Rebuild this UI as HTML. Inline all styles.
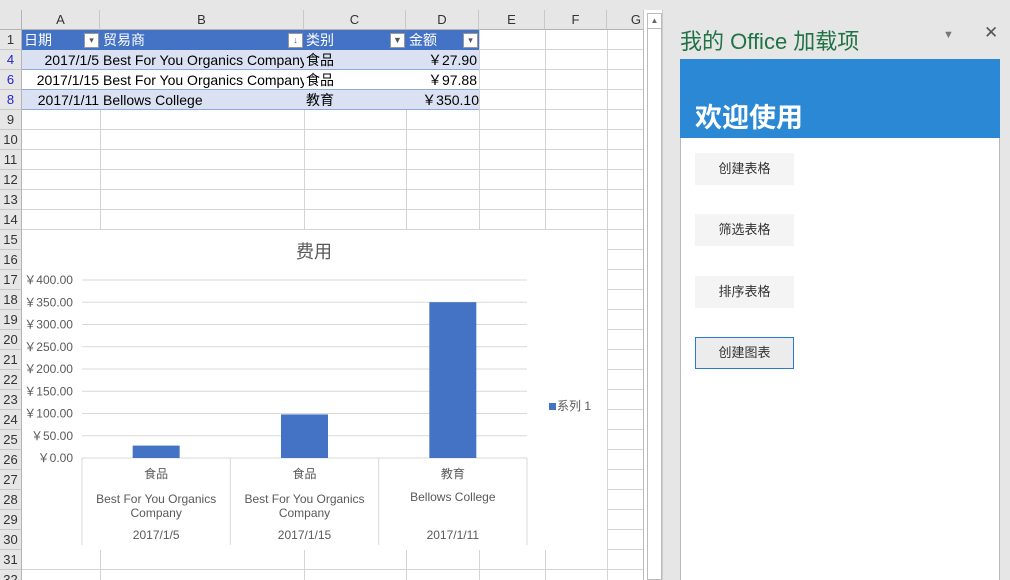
<!DOCTYPE html>
<html style="width:1010px;height:580px;overflow:hidden"><head><meta charset="utf-8"><style>
*{margin:0;padding:0;box-sizing:border-box}
body{width:1010px;height:580px;overflow:hidden;background:#fff;font-family:"Liberation Sans","Noto Sans CJK SC",sans-serif;position:relative}
.abs{position:absolute}
.ch{position:absolute;top:10px;height:20px;background:#e6e6e6;border-right:1px solid #c8c8c8;border-bottom:1px solid #b4b4b4;font-size:13px;color:#333;text-align:center;line-height:20px}
.rh{position:absolute;left:0;width:22px;height:20px;background:#e6e6e6;border-bottom:1px solid #c8c8c8;border-right:1px solid #b4b4b4;font-size:13px;color:#333;text-align:center;line-height:20px}
.vl{position:absolute;top:30px;width:1px;height:550px;background:#d4d4d4}
.hl{position:absolute;left:22px;width:621px;height:1px;background:#d4d4d4}
.cell{position:absolute;height:20px;line-height:20px;font-size:14px;color:#000;white-space:nowrap;overflow:hidden}
.dd{position:absolute;width:15px;height:15px;background:#fff;border:1px solid #999;top:33px}
.btn{position:absolute;left:695px;width:99px;height:32px;background:#f4f4f4;font-size:13px;color:#333;text-align:center;line-height:32px}
</style></head><body>
<div class="abs" style="left:0;top:0;width:1010px;height:10px;background:#e6e6e6"></div>
<div class="abs" style="left:0;top:10px;width:22px;height:20px;background:#e6e6e6;border-right:1px solid #b4b4b4;border-bottom:1px solid #b4b4b4"></div>
<div class="ch" style="left:22px;width:78px">A</div>
<div class="ch" style="left:100px;width:204px">B</div>
<div class="ch" style="left:304px;width:102px">C</div>
<div class="ch" style="left:406px;width:73px">D</div>
<div class="ch" style="left:479px;width:66px">E</div>
<div class="ch" style="left:545px;width:62px">F</div>
<div class="ch" style="left:607px;width:37px;text-align:right;padding-right:2px">G</div>
<div id="rows"></div>
<div class="vl" style="left:100px"></div><div class="vl" style="left:304px"></div><div class="vl" style="left:406px"></div><div class="vl" style="left:479px"></div><div class="vl" style="left:545px"></div><div class="vl" style="left:607px"></div><div class="vl" style="left:643px;background:#bbb"></div>
<div id="hlines"></div>
<div class="abs" style="left:22px;top:30px;width:457px;height:20px;background:#4472c4"></div>
<div class="abs" style="left:22px;top:50px;width:457px;height:20px;background:#d9e1f2;border-bottom:1px solid #8ea9db"></div>
<div class="abs" style="left:22px;top:70px;width:457px;height:20px;background:#fff;border-bottom:1px solid #8ea9db"></div>
<div class="abs" style="left:22px;top:90px;width:457px;height:20px;background:#d9e1f2;border-bottom:1px solid #8ea9db"></div>
<div class="cell" style="left:24px;top:30px;color:#fff">日期</div>
<div class="cell" style="left:103px;top:30px;color:#fff">贸易商</div>
<div class="cell" style="left:306px;top:30px;color:#fff">类别</div>
<div class="cell" style="left:409px;top:30px;color:#fff">金额</div>
<div class="dd" style="left:84px;font-size:9px;text-align:center;line-height:12px;color:#555">▾</div>
<div class="dd" style="left:288px;font-size:9px;text-align:center;line-height:12px;color:#555">↓</div>
<div class="dd" style="left:390px;font-size:9px;text-align:center;line-height:12px;color:#555">▼</div>
<div class="dd" style="left:463px;font-size:9px;text-align:center;line-height:12px;color:#555">▾</div>
<div class="cell" style="left:22px;width:77px;top:50px;text-align:right">2017/1/5</div>
<div class="cell" style="left:103px;width:201px;top:50px">Best For You Organics Company</div>
<div class="cell" style="left:306px;top:50px">食品</div>
<div class="cell" style="left:406px;width:71px;top:50px;text-align:right">￥27.90</div>
<div class="cell" style="left:22px;width:77px;top:70px;text-align:right">2017/1/15</div>
<div class="cell" style="left:103px;width:201px;top:70px">Best For You Organics Company</div>
<div class="cell" style="left:306px;top:70px">食品</div>
<div class="cell" style="left:406px;width:71px;top:70px;text-align:right">￥97.88</div>
<div class="cell" style="left:22px;width:77px;top:90px;text-align:right">2017/1/11</div>
<div class="cell" style="left:103px;width:201px;top:90px">Bellows College</div>
<div class="cell" style="left:306px;top:90px">教育</div>
<div class="cell" style="left:406px;width:73px;top:90px;text-align:right">￥350.10</div>
<svg class="abs" style="left:22px;top:230px" width="585" height="320" id="chart"></svg>
<div class="abs" style="left:647px;top:13px;width:15px;height:567px;border:1px solid #bbb;background:#fff"></div>
<div class="abs" style="left:647px;top:13px;width:15px;height:16px;border:1px solid #bbb;background:#fff;font-size:8px;text-align:center;color:#666;line-height:14px">▲</div>
<div class="abs" style="left:662px;top:10px;width:348px;height:570px;background:#e6e6e6;border-left:1px solid #ccc"></div>
<div class="abs" style="left:680px;top:24px;font-size:22px;color:#217346">我的 Office 加载项</div>
<div class="abs" style="left:943px;top:29px;font-size:11px;color:#777">▼</div>
<div class="abs" style="left:984px;top:23px;font-size:17px;color:#555">✕</div>
<div class="abs" style="left:680px;top:59px;width:320px;height:530px;background:#fff;border:1px solid #bbb"></div>
<div class="abs" style="left:680px;top:59px;width:320px;height:79px;background:#2b88d4"></div>
<div class="abs" style="left:695px;top:96px;font-size:27px;font-weight:bold;color:#fff">欢迎使用</div>
<div class="btn" style="top:153px">创建表格</div>
<div class="btn" style="top:214px">筛选表格</div>
<div class="btn" style="top:276px">排序表格</div>
<div class="btn" style="top:337px;background:#ececec;border:1px solid #2b79d0;line-height:30px">创建图表</div>
<script>
const rowLabels=['1','4','6','8','9','10','11','12','13','14','15','16','17','18','19','20','21','22','23','24','25','26','27','28','29','30','31','32'];
const R=document.getElementById('rows'),H=document.getElementById('hlines');
rowLabels.forEach((l,i)=>{const d=document.createElement('div');d.className='rh';d.style.top=(30+i*20)+'px';d.textContent=l;


if(['4','6','8'].includes(l))d.style.color='#2222cc';R.appendChild(d);
const h=document.createElement('div');h.className='hl';h.style.top=(49+i*20)+'px';H.appendChild(h);});
</script>
<script>
const categories=['食品','食品','教育'];
const vendors=[['Best For You Organics','Company'],['Best For You Organics','Company'],['Bellows College']];
const dates=['2017/1/5','2017/1/15','2017/1/11'];
const values=[27.90,97.88,350.10];
const ticks=[0,50,100,150,200,250,300,350,400];
const tickLabels=['￥0.00','￥50.00','￥100.00','￥150.00','￥200.00','￥250.00','￥300.00','￥350.00','￥400.00'];
const NS='http://www.w3.org/2000/svg',svg=document.getElementById('chart');
const x0=60,x1=505,y0=228,yTop=50,maxV=400;
const yS=v=>y0-(v/maxV)*(y0-yTop);
const band=(x1-x0)/categories.length;
const xS=i=>x0+band*(i+0.5);
function el(t,a,txt){const e=document.createElementNS(NS,t);for(const k in a)e.setAttribute(k,a[k]);if(txt!==undefined)e.textContent=txt;svg.appendChild(e);return e;}
svg.style.background='#fff';
let t=el('text',{x:292,y:28,'text-anchor':'middle','font-size':18,fill:'#595959'},'费用');


ticks.forEach((v,i)=>{let g=el('line',{x1:x0,x2:x1,y1:yS(v),y2:yS(v),stroke:'#d9d9d9'});


let l=el('text',{x:51,y:yS(v)+4,'text-anchor':'end','font-size':12,fill:'#595959'},tickLabels[i]);

});
for(let i=0;i<=categories.length;i++){el('line',{x1:x0+band*i,x2:x0+band*i,y1:y0,y2:315,stroke:'#d9d9d9'});}
values.forEach((v,i)=>{const w=47;let b=el('rect',{x:xS(i)-w/2,y:yS(v),width:w,height:y0-yS(v),fill:'#4472c4'});


let c=el('text',{x:xS(i),y:248,'text-anchor':'middle','font-size':12,fill:'#595959'},categories[i]);


const vy=vendors[i].length>1?273:271;
vendors[i].forEach((s,j)=>{let vt=el('text',{x:xS(i),y:vy+j*14,'text-anchor':'middle','font-size':12,fill:'#595959'},s);

});
let d=el('text',{x:xS(i),y:309,'text-anchor':'middle','font-size':12,fill:'#595959'},dates[i]);

});
let lk=el('rect',{x:527,y:173,width:7,height:7,fill:'#4472c4'});


let lt=el('text',{x:535,y:180,'font-size':12,fill:'#595959'},'系列 1');


</script>
</body></html>
